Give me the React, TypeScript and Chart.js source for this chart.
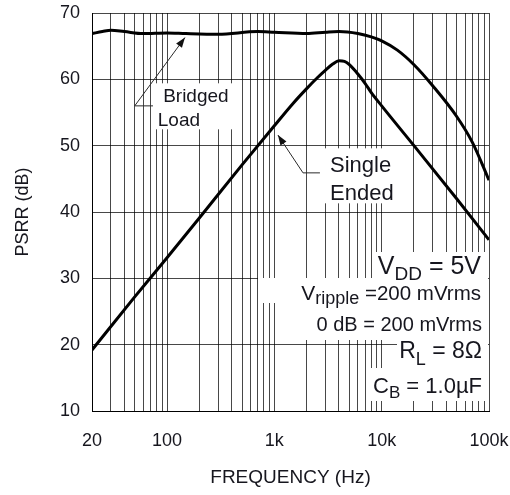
import React, { useEffect, useRef } from 'react';
import { Chart, registerables } from 'chart.js';

Chart.register(...registerables);

// Bridged-load PSRR (frequency in Hz, PSRR in dB)
const bridgedFreq = [20, 25, 30, 40, 60, 100, 150, 300, 700, 1000, 2000, 3000, 4000, 6000, 8000, 10000, 14000, 20000, 30000, 50000, 70000, 100000];
const bridgedDb = [66.9, 67.2, 67.4, 67.2, 66.9, 67.0, 66.9, 66.8, 67.2, 67.1, 66.9, 67.1, 67.2, 66.9, 66.4, 65.8, 64.4, 62.2, 59.0, 54.4, 50.5, 44.8];

// Single-ended PSRR
const singleFreq = [20, 50, 100, 200, 500, 1000, 1500, 2000, 2500, 3000, 3500, 4000, 4500, 5000, 6000, 7000, 8000, 10000, 20000, 50000, 100000];
const singleDb = [19.2, 27.2, 33.1, 39.1, 47.1, 53.0, 56.4, 58.6, 60.2, 61.4, 62.3, 62.8, 62.7, 62.2, 60.8, 59.4, 58.0, 56.0, 50.0, 42.0, 35.8];

// Axis ticks
const yTicks = [10, 20, 30, 40, 50, 60, 70];
const xGrid = [
  20, 30, 40, 50, 60, 70, 80, 90,
  100, 200, 300, 400, 500, 600, 700, 800, 900,
  1000, 2000, 3000, 4000, 5000, 6000, 7000, 8000, 9000,
  10000, 20000, 30000, 40000, 50000, 60000, 70000, 80000, 90000,
  100000,
];
const xLabelValues = [20, 100, 1000, 10000, 100000];
const xLabelTexts = ['20', '100', '1k', '10k', '100k'];

const FONT = '"Liberation Sans", Arial, Helvetica, sans-serif';
const INK = '#16161e';
const GRID = 'rgba(0,0,0,0.72)';

type Seg = { t: string; size: number; dy: number };

function drawSegsRight(ctx: CanvasRenderingContext2D, segs: Seg[], right: number, baseline: number) {
  let total = 0;
  const widths = segs.map((s) => {
    ctx.font = `${s.size}px ${FONT}`;
    const w = ctx.measureText(s.t).width;
    total += w;
    return w;
  });
  let x = right - total;
  ctx.textAlign = 'left';
  ctx.textBaseline = 'alphabetic';
  segs.forEach((s, i) => {
    ctx.font = `${s.size}px ${FONT}`;
    ctx.fillText(s.t, x, baseline + s.dy);
    x += widths[i];
  });
}

function drawArrow(ctx: CanvasRenderingContext2D, pts: [number, number][]) {
  ctx.save();
  ctx.strokeStyle = '#2a2a2a';
  ctx.fillStyle = '#111';
  ctx.lineWidth = 1;
  ctx.beginPath();
  ctx.moveTo(pts[0][0], pts[0][1]);
  for (let i = 1; i < pts.length; i++) ctx.lineTo(pts[i][0], pts[i][1]);
  ctx.stroke();
  const [tx, ty] = pts[pts.length - 1];
  const [px, py] = pts[pts.length - 2];
  const ang = Math.atan2(ty - py, tx - px);
  const len = 10;
  const half = 3.6;
  ctx.beginPath();
  ctx.moveTo(tx, ty);
  ctx.lineTo(tx - len * Math.cos(ang) + half * Math.sin(ang), ty - len * Math.sin(ang) - half * Math.cos(ang));
  ctx.lineTo(tx - len * Math.cos(ang) - half * Math.sin(ang), ty - len * Math.sin(ang) + half * Math.cos(ang));
  ctx.closePath();
  ctx.fill();
  ctx.restore();
}

const notesPlugin = {
  id: 'psrrNotes',
  beforeDatasetsDraw(chart: any) {
    const { ctx, chartArea: a, scales } = chart;
    const xs = scales.x;
    const ys = scales.y;
    ctx.save();
    ctx.fillStyle = '#fff';
    // clear areas behind the test-condition block
    const boxes: [number, number, number, number][] = [
      [-116, -159, 115, 26],
      [-231, -133, 230, 25],
      [-189, -108, 188, 37],
      [-92, -71, 91, 28],
      [-121, -43, 120, 33],
    ];
    boxes.forEach(([l, t, w, h]) => ctx.fillRect(a.right + l, a.bottom + t, w, h));
    // clear areas behind the curve labels
    const bx = xs.getPixelForValue(80);
    ctx.fillRect(bx - 3, ys.getPixelForValue(59.4), 84, 46);
    const sx = xs.getPixelForValue(2900);
    ctx.fillRect(sx - 2, ys.getPixelForValue(49.6), 80, 55);
    ctx.restore();
  },
  afterDatasetsDraw(chart: any) {
    const { ctx, chartArea: a, scales } = chart;
    const xs = scales.x;
    const ys = scales.y;
    const X = (v: number) => xs.getPixelForValue(v);
    const Y = (v: number) => ys.getPixelForValue(v);
    ctx.save();
    ctx.fillStyle = INK;

    // Bridged Load label and leader
    ctx.font = `19px ${FONT}`;
    ctx.textAlign = 'left';
    ctx.textBaseline = 'alphabetic';
    ctx.fillText('Bridged', X(92), Y(56.6));
    ctx.fillText('Load', X(82), Y(53.0));
    drawArrow(ctx, [[X(74), Y(56.0)], [X(50), Y(56.0)], [X(147), Y(66.3)]]);

    // Single Ended label and leader
    ctx.fillStyle = INK;
    ctx.font = `22px ${FONT}`;
    ctx.fillText('Single', X(3300), Y(46.0));
    ctx.fillText('Ended', X(3300), Y(41.8));
    drawArrow(ctx, [[X(2660), Y(45.9)], [X(1850), Y(45.9)], [X(1080), Y(51.6)]]);

    // Test conditions
    ctx.fillStyle = INK;
    const r = a.right - 7;
    drawSegsRight(ctx, [
      { t: 'V', size: 25, dy: 0 },
      { t: 'DD', size: 19, dy: 6 },
      { t: ' = 5V', size: 25, dy: 0 },
    ], r - 1, a.bottom - 137);
    drawSegsRight(ctx, [
      { t: 'V', size: 21, dy: 0 },
      { t: 'ripple', size: 18, dy: 4 },
      { t: ' =200 mVrms', size: 20.5, dy: 0 },
    ], r - 1, a.bottom - 111);
    drawSegsRight(ctx, [{ t: '0 dB = 200 mVrms', size: 20, dy: 0 }], r, a.bottom - 80);
    drawSegsRight(ctx, [
      { t: 'R', size: 23, dy: 0 },
      { t: 'L', size: 18, dy: 7 },
      { t: ' = 8Ω', size: 23, dy: 0 },
    ], r, a.bottom - 53);
    drawSegsRight(ctx, [
      { t: 'C', size: 22, dy: 0 },
      { t: 'B', size: 17, dy: 5 },
      { t: ' = 1.0µF', size: 22, dy: 0 },
    ], r, a.bottom - 18);
    ctx.restore();
  },
};

// keep tick-label overflow from widening the outer margins
function noOverflow(s: any) {
  s.paddingTop = 0;
  s.paddingBottom = 0;
  s.paddingLeft = 0;
  s.paddingRight = 0;
}

export default function App() {
  const canvasRef = useRef<HTMLCanvasElement | null>(null);

  useEffect(() => {
    if (!canvasRef.current) return;
    const toPoints = (fs: number[], ds: number[]) => fs.map((f, i) => ({ x: f, y: ds[i] }));
    const chart = new Chart(canvasRef.current, {
      type: 'line',
      data: {
        datasets: [
          {
            label: 'Bridged Load',
            data: toPoints(bridgedFreq, bridgedDb),
            borderColor: '#000',
            borderWidth: 3,
            pointRadius: 0,
            cubicInterpolationMode: 'monotone',
            fill: false,
          },
          {
            label: 'Single Ended',
            data: toPoints(singleFreq, singleDb),
            borderColor: '#000',
            borderWidth: 3,
            pointRadius: 0,
            cubicInterpolationMode: 'monotone',
            fill: false,
          },
        ],
      },
      options: {
        responsive: false,
        animation: false,
        devicePixelRatio: 1,
        layout: { padding: { top: 13, right: 21, left: 0, bottom: 0 } },
        plugins: { legend: { display: false }, tooltip: { enabled: false } },
        scales: {
          x: {
            type: 'logarithmic',
            min: 20,
            max: 100000,
            afterBuildTicks: (s: any) => {
              s.ticks = xGrid.map((v) => ({ value: v }));
            },
            afterFit: (s: any) => {
              s.height = 84;
              noOverflow(s);
            },
            ticks: {
              autoSkip: false,
              maxRotation: 0,
              minRotation: 0,
              padding: 19,
              color: INK,
              font: { family: FONT, size: 18 },
              callback: (v: any) => {
                const i = xLabelValues.indexOf(Number(v));
                return i >= 0 ? xLabelTexts[i] : '';
              },
            },
            grid: { color: GRID, lineWidth: 1, drawTicks: false },
            border: { color: '#000', width: 1 },
            title: {
              display: true,
              text: 'FREQUENCY (Hz)',
              color: INK,
              font: { family: FONT, size: 19 },
              padding: { top: 0, bottom: 6 },
            },
          },
          y: {
            type: 'linear',
            min: 10,
            max: 70,
            afterBuildTicks: (s: any) => {
              s.ticks = yTicks.map((v) => ({ value: v }));
            },
            afterFit: (s: any) => {
              s.width = 92;
              noOverflow(s);
            },
            ticks: {
              padding: 12,
              color: INK,
              font: { family: FONT, size: 18 },
            },
            grid: { color: GRID, lineWidth: 1, drawTicks: false },
            border: { color: '#000', width: 1 },
            title: {
              display: true,
              text: 'PSRR (dB)',
              color: INK,
              font: { family: FONT, size: 18 },
              padding: { top: 12, bottom: 0 },
            },
          },
        },
      },
      plugins: [notesPlugin],
    } as any);
    return () => chart.destroy();
  }, []);

  return (
    <div style={{ position: 'absolute', left: 0, top: 0, width: 510, height: 495, background: '#fff' }}>
      <canvas ref={canvasRef} width={510} height={495} />
    </div>
  );
}
